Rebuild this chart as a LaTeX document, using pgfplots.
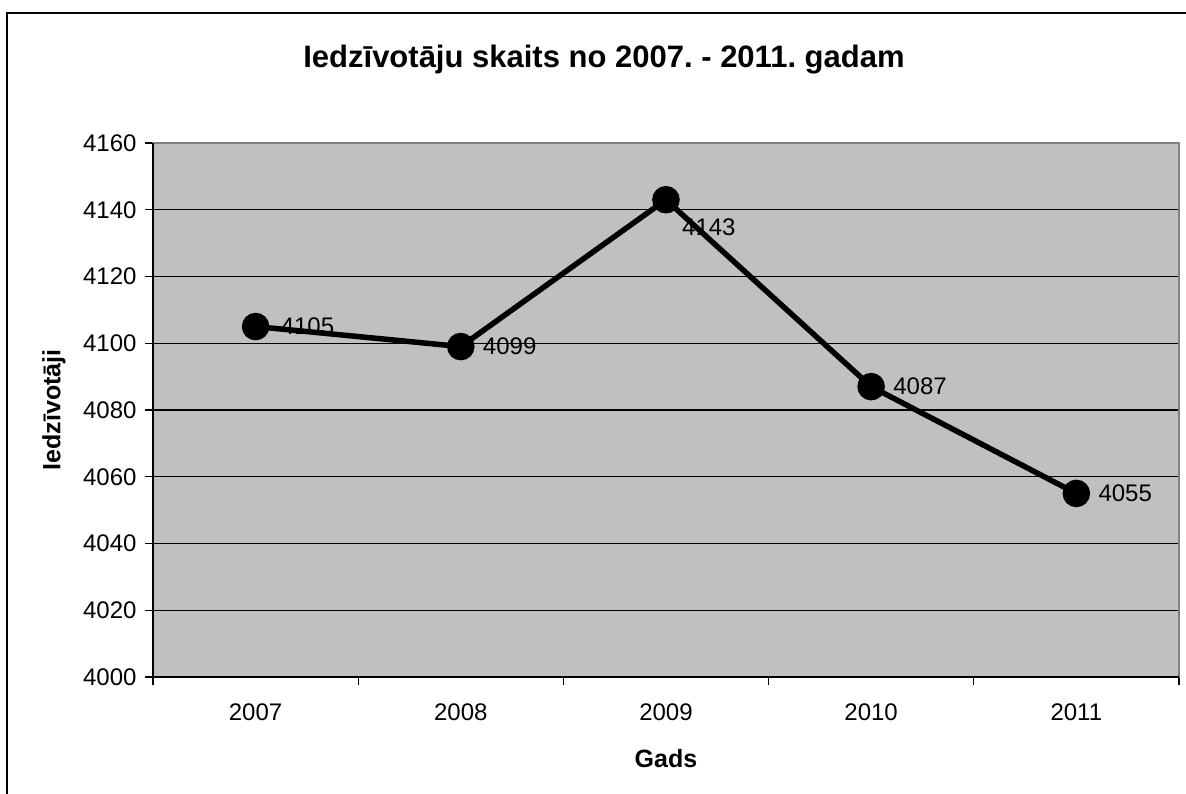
\documentclass[border=0pt]{standalone}
\usepackage{pgfplots}
\pgfplotsset{compat=1.18}
\usepackage{fontspec}
\setmainfont{Liberation Sans}
\definecolor{plotgray}{HTML}{C0C0C0}
\definecolor{framegray}{HTML}{808080}
\begin{document}
\frenchspacing
\begin{tikzpicture}[x=1pt,y=1pt]
\clip (0,0) rectangle (1186,794);
\fill[white] (0,0) rectangle (1186,794);
\draw[line width=2.5pt] (7,-20) rectangle (1220,781);
\node[anchor=base, inner sep=0pt, font=\bfseries\fontsize{31}{36}\selectfont] at (604,726) {Iedzīvotāju skaits no 2007. - 2011. gadam};
\begin{axis}[
  at={(153pt,117pt)}, anchor=south west,
  scale only axis, width=1026pt, height=534pt,
  xmin=-0.5, xmax=4.5, ymin=4000, ymax=4160,
  ytick={4000,4020,...,4160},
  xtick={-0.5,0.5,1.5,2.5,3.5,4.5}, xticklabels={},
  extra x ticks={0,1,2,3,4},
  extra x tick labels={2007,2008,2009,2010,2011},
  extra x tick style={major tick length=0pt, grid=none},
  xtick pos=bottom, ytick pos=left,
  tick align=outside, major tick length=8pt,
  tick style={black, line width=1.3pt},
  ymajorgrids, major grid style={black, line width=1.3pt},
  axis line style={draw=framegray, line width=1.5pt},
  axis background/.style={fill=plotgray},
  /pgf/number format/assume math mode=true,
  /pgf/number format/1000 sep={},
  yticklabel style={font=\fontsize{24}{28}\selectfont, xshift=-5pt},
  xticklabel style={font=\fontsize{24}{28}\selectfont, yshift=-23pt},
  xlabel={Gads},
  xlabel style={font=\bfseries\fontsize{25}{30}\selectfont, at={(axis description cs:0.5,-0.1704)}, anchor=base},
  ylabel={Iedzīvotāji},
  ylabel style={font=\bfseries\fontsize{25}{30}\selectfont, at={(axis description cs:-0.0965,0.5)}, anchor=center},
  clip=false,
]
\addplot[black, line width=5.5pt, mark=*, mark size=11pt, mark options={solid, fill=black}]
  coordinates {(0,4105) (1,4099) (2,4143) (3,4087) (4,4055)};
\addplot[draw=none, nodes near coords, point meta=explicit symbolic,
  nodes near coords style={anchor=west, inner sep=0pt, xshift=22pt, font=\fontsize{24}{28}\selectfont, black}]
  coordinates {(1,4099)[4099] (3,4087)[4087] (4,4055)[4055]};
\addplot[draw=none, nodes near coords, point meta=explicit symbolic,
  nodes near coords style={anchor=west, inner sep=0pt, xshift=25pt, font=\fontsize{24}{28}\selectfont, black}]
  coordinates {(0,4105)[4105]};
\addplot[draw=none, nodes near coords, point meta=explicit symbolic,
  nodes near coords style={anchor=west, inner sep=0pt, xshift=16pt, yshift=-28pt, font=\fontsize{24}{28}\selectfont, black}]
  coordinates {(2,4143)[4143]};
\draw[black, line width=1.5pt] (rel axis cs:0,1) -- (rel axis cs:0,0) -- (rel axis cs:1,0);
\end{axis}
\end{tikzpicture}
\end{document}
